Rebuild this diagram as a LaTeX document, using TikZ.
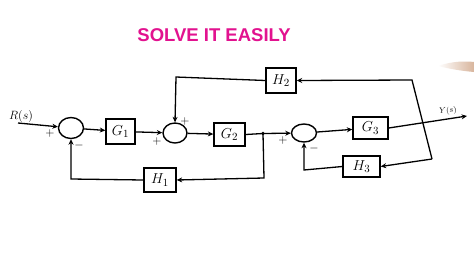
\documentclass[tikz,border=0pt]{standalone}
\usepackage{fontspec}
\newfontfamily\titlefont{Liberation Sans}
\usetikzlibrary{shapes.geometric,arrows.meta}
\definecolor{titlemag}{RGB}{226,18,143}
\definecolor{skin}{RGB}{200,150,115}
\begin{document}
\begin{tikzpicture}[x=1pt,y=-1pt,
  blk/.style={draw,line width=1.4pt,inner sep=0pt,font=\fontsize{15.5}{17}\selectfont},
  sumj/.style={draw,ellipse,line width=1.4pt,inner sep=0pt,minimum width=25pt,minimum height=21pt},
  wire/.style={line width=1.3pt},
  arr/.style={wire,-{Stealth[length=5.5pt,width=5pt]}},
  sgn/.style={font=\fontsize{12}{14}\selectfont,inner sep=0pt}]
\useasboundingbox (0,0) rectangle (474,266);
\fill[white] (0,0) rectangle (474,266);
% smudge top right
\shade[left color=white,right color=skin,opacity=0.7] (438,66) .. controls (452,61) and (466,61) .. (474,62) -- (474,72) .. controls (462,71) and (450,69) .. (438,66);
% title
\node[text=titlemag,font=\titlefont\bfseries\fontsize{18.5}{20}\selectfont,inner sep=0pt] (title) at (214,35) {SOLVE IT EASILY};
% blocks
\node[sumj] (s1) at (71,128) {};
\node[blk,minimum width=29pt,minimum height=25pt] (G1) at (120.5,131.5) {$G_1$};
\node[sumj,minimum width=24pt,minimum height=20pt] (s2) at (175,133) {};
\node[blk,minimum width=31pt,minimum height=23pt] (G2) at (229.5,134.5) {$G_2$};
\node[blk,minimum width=32pt,minimum height=24pt] (H1) at (160,180) {$H_1$};
\node[blk,minimum width=30pt,minimum height=25pt] (H2) at (281,80.5) {$H_2$};
\node[sumj,minimum width=25pt,minimum height=18pt] (s3) at (304,133) {};
\node[blk,minimum width=35pt,minimum height=22pt] (G3) at (370.5,128) {$G_3$};
\node[blk,minimum width=37pt,minimum height=21pt] (H3) at (361.5,166.5) {$H_3$};
% coordinates
\coordinate (rin) at (18,123);
\coordinate (br) at (263,133.5);
\coordinate (b1) at (264,178);
\coordinate (c1) at (71,179);
\coordinate (tr) at (412,80);
\coordinate (bt) at (432,159);
\coordinate (d1) at (176,77);
\coordinate (e1) at (304,170);
\coordinate (yout) at (467,116);
% labels
\node[font=\fontsize{12}{14}\selectfont,inner sep=0pt] (Rl) at (21,116) {$R(s)$};
\node[font=\fontsize{8.5}{10}\selectfont,inner sep=0pt,rotate=6] (Yl) at (448,111) {$Y(s)$};
\node[sgn] (p1) at (50,133) {$+$};
\node[sgn] (m1) at (79,145) {$-$};
\node[sgn] (p2) at (157,141) {$+$};
\node[sgn] (p2b) at (185,121) {$+$};
\node[sgn] (p3) at (283,140) {$+$};
\node[sgn] (m3) at (314,148) {$-$};
% connectors
\draw[arr] (rin) -- (s1);
\draw[arr] (s1) -- (G1);
\draw[arr] (G1) -- (s2);
\draw[arr] (s2) -- (G2);
\draw[wire] (G2.east) -- (br);
\draw[arr] (br) -- (s3);
\fill (br) circle (1.8pt);
\draw[arr] (br) -- (b1) -- (H1.east);
\draw[arr] (H1.west) -- (c1) -- (s1.south);
\draw[arr] (s3) -- (G3);
\draw[arr] (G3.east) -- (yout);
\draw[arr] (bt) -- (tr) -- (H2.east);
\draw[arr] (bt) -- (H3.east);
\draw[arr] (H2.west) -- (d1) -- (s2.north);
\draw[arr] (H3.west) -- (e1) -- (s3.south);
\end{tikzpicture}
\end{document}
